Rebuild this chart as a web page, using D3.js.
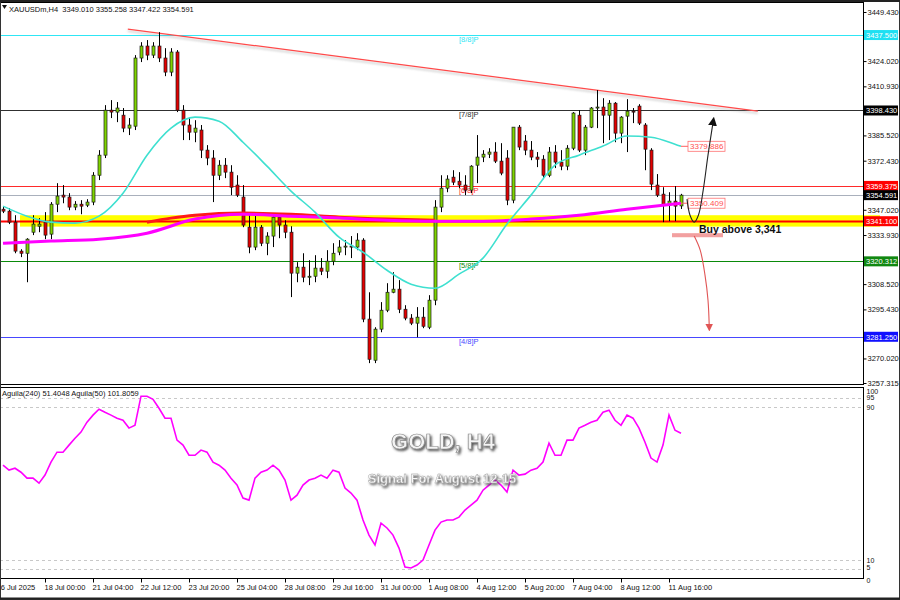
<!DOCTYPE html>
<html><head><meta charset="utf-8">
<script src="https://cdn.jsdelivr.net/npm/d3@7/dist/d3.min.js"></script>
<style>
html,body{margin:0;padding:0;background:#fff;}
svg{display:block;font-family:"Liberation Sans",Arial,sans-serif;}
</style></head><body>
<svg id="chart" width="900" height="600"></svg>
<script>
// ---------------- DATA ----------------
const opens=[3347.3,3346.3,3340.6,3325.6,3324.5,3335.4,3338.5,3340.6,3334.4,3349.9,
3354.6,3353.6,3348.4,3349.9,3349.4,3351.0,3364.9,3375.3,3398.6,3397.6,
3396.0,3389.3,3390.3,3425.6,3431.8,3427.1,3431.8,3425.6,3418.3,3428.7,
3398.6,3390.9,3387.2,3388.3,3377.9,3373.8,3364.9,3370.1,3366.5,3359.8,
3353.6,3338.0,3327.7,3338.0,3329.7,3333.4,3343.2,3339.1,3335.4,3314.2,
3317.3,3312.1,3312.6,3316.8,3315.2,3320.4,3325.1,3327.7,3328.2,3327.7,
3331.3,3290.4,3269.1,3285.2,3295.0,3304.3,3305.9,3295.5,3290.9,3288.3,
3291.4,3286.2,3300.2,3348.4,3358.2,3363.9,3361.8,3359.8,3357.2,3370.1,
3374.3,3375.8,3376.9,3372.2,3373.8,3352.0,3389.8,3382.6,3377.9,3374.3,
3373.2,3364.9,3376.9,3371.7,3369.6,3378.9,3396.0,3377.9,3389.8,3399.7,
3400.2,3396.0,3402.2,3386.7,3395.5,3398.1,3400.7,3390.9,3377.9,3359.8,
3355.1,3349.4,3351.5,3349.010];
const highs=[3348.9,3347.9,3344.2,3326.6,3332.3,3344.2,3342.7,3345.8,3351.0,3360.8,
3359.8,3355.6,3351.5,3352.0,3352.5,3366.5,3377.9,3401.2,3403.8,3402.8,
3399.7,3394.5,3427.1,3433.8,3434.9,3433.8,3439.0,3430.7,3430.7,3429.7,
3401.2,3394.5,3393.4,3390.9,3380.5,3377.9,3372.7,3373.8,3370.1,3364.9,
3359.8,3345.3,3345.3,3339.1,3335.4,3345.3,3345.3,3341.6,3338.5,3319.9,
3324.5,3320.9,3323.5,3322.0,3326.1,3329.7,3331.3,3331.3,3333.4,3334.9,
3332.3,3304.3,3286.2,3299.2,3309.0,3314.7,3310.6,3297.6,3293.0,3296.6,
3296.6,3302.8,3352.0,3364.9,3364.9,3367.5,3366.5,3364.9,3370.1,3385.7,
3377.9,3378.9,3382.0,3381.5,3377.9,3389.8,3390.9,3385.7,3382.6,3376.9,
3375.3,3379.5,3380.5,3377.9,3380.5,3397.6,3398.6,3390.9,3400.2,3409.0,
3404.8,3403.8,3402.8,3395.5,3404.3,3399.7,3401.7,3391.9,3378.9,3365.5,
3358.7,3356.1,3359.3,3355.258];
const lows=[3345.3,3339.6,3324.5,3322.5,3309.5,3333.9,3335.4,3331.8,3331.8,3345.8,
3350.4,3346.8,3346.8,3344.7,3348.4,3349.4,3362.4,3373.8,3394.5,3392.4,
3387.2,3385.7,3388.3,3423.5,3424.5,3425.6,3423.5,3416.2,3416.2,3397.6,
3383.1,3383.1,3382.0,3373.8,3370.1,3351.0,3362.4,3363.4,3354.6,3353.6,
3338.0,3324.5,3326.1,3328.2,3323.5,3327.7,3332.3,3332.3,3301.8,3309.5,
3309.5,3308.0,3309.5,3313.2,3311.6,3318.3,3323.5,3323.5,3322.0,3326.1,
3288.8,3267.6,3267.6,3283.6,3294.0,3303.8,3293.5,3289.8,3287.3,3281.0,
3285.7,3285.2,3297.6,3345.8,3356.1,3359.8,3358.2,3354.6,3355.6,3360.8,
3371.7,3373.8,3371.2,3364.9,3349.4,3350.4,3377.9,3375.3,3372.7,3369.1,
3362.9,3363.9,3368.6,3367.5,3367.5,3377.9,3376.9,3375.3,3389.3,3389.3,
3381.5,3383.1,3382.0,3381.5,3376.9,3391.9,3390.9,3367.5,3357.2,3353.6,
3340.6,3341.1,3341.1,3347.422];
const closes=[3346.3,3340.6,3325.6,3324.5,3331.8,3339.6,3339.6,3333.9,3349.9,3354.1,
3353.6,3348.4,3349.9,3348.9,3351.0,3364.9,3375.3,3398.6,3397.6,3399.7,
3389.3,3390.9,3425.6,3431.8,3427.1,3431.8,3425.6,3418.3,3428.7,3398.6,
3390.9,3387.2,3389.3,3377.9,3373.8,3364.9,3370.1,3366.5,3358.7,3354.6,
3339.1,3327.7,3338.0,3329.7,3333.4,3343.2,3339.1,3335.4,3314.2,3317.3,
3312.1,3312.6,3316.8,3315.2,3320.4,3324.5,3327.7,3328.2,3327.7,3331.3,
3290.4,3269.6,3285.2,3295.0,3304.3,3305.9,3295.5,3290.9,3288.3,3291.4,
3286.7,3300.2,3348.4,3358.2,3362.9,3361.3,3359.8,3357.2,3369.6,3374.3,
3375.8,3376.9,3372.2,3366.0,3352.0,3389.8,3379.5,3377.9,3374.3,3373.2,
3364.9,3376.9,3371.7,3369.6,3378.9,3397.1,3377.9,3389.8,3399.7,3400.2,
3396.0,3402.2,3386.7,3395.0,3398.1,3397.6,3391.9,3378.4,3360.3,3354.6,
3349.4,3351.5,3348.9,3354.591];

// moving averages (bar index, value)
const cyanMAIdx=[0,4,8,12,16,20,24,28,32,36,40,44,48,52,56,60,64,68,72,76,80,84,88,92,96,100,104,108,112,113];
const cyanMAVal=[3348.9,3343.7,3340.6,3340.1,3343.7,3355.6,3375.3,3389.3,3395.0,3392.9,3382.0,3369.6,3356.7,3345.8,3332.8,3325.1,3315.7,3308.5,3306.4,3313.7,3322.0,3339.6,3354.6,3370.1,3375.3,3380.0,3385.2,3384.6,3381.0,3379.886];
const magMAIdx=[0,8,16,24,32,40,48,56,64,72,80,88,96,104,113];
const magMAVal=[3329.7,3330.8,3331.8,3334.9,3342.2,3344.7,3343.7,3342.7,3341.6,3341.1,3341.1,3342.2,3344.2,3347.3,3350.409];
const redMAIdx=[24,28,32,40,48,56,64,72];
const redMAVal=[3340.6,3342.7,3344.2,3345.3,3344.7,3343.2,3342.2,3341.6];

// oscillator (Aguila) one value per bar
const oscVal=[59.6,57.0,58.0,55.9,52.8,52.8,50.2,54.4,61.2,66.4,
66.4,70.1,73.7,76.9,82.1,85.8,88.9,87.3,85.8,84.2,
83.1,79.0,80.5,95.7,95.7,94.1,89.4,84.2,84.2,72.7,
70.1,64.8,64.8,67.5,66.4,61.2,59.6,57.0,52.8,49.2,
42.4,41.3,52.8,55.9,57.0,59.6,57.0,51.8,41.3,43.9,
49.2,51.8,52.8,54.4,52.8,57.0,55.9,47.6,45.0,41.3,
30.9,23.0,17.8,29.3,26.7,23.0,16.2,6.3,5.8,7.3,
9.9,17.8,25.6,29.8,30.9,30.9,32.4,36.1,38.7,41.3,
46.5,49.2,51.8,49.2,45.5,57.0,54.4,54.9,57.0,58.0,
61.2,71.1,64.8,64.8,72.7,72.7,79.0,80.5,82.1,83.1,
87.3,88.4,83.1,80.5,85.8,84.2,79.0,71.6,63.3,61.2,
70.1,85.8,77.9,76.3];

const priceTicks=[3449.430,3424.020,3410.930,3385.520,3372.430,3347.020,3333.930,3308.520,3295.430,3270.020,3257.315];
const oscTicks=[100,95,90,10,5,0];
const oscDashed=[95,90,10,5];
const timeTickIdx=[-1,7,15,23,31,39,47,55,63,71,79,87,95,103,111];
const timeLabels=["16 Jul 2025","18 Jul 00:00","21 Jul 04:00","22 Jul 12:00","23 Jul 20:00","25 Jul 04:00","28 Jul 08:00","29 Jul 16:00","31 Jul 00:00","1 Aug 08:00","4 Aug 12:00","5 Aug 20:00","7 Aug 04:00","8 Aug 12:00","11 Aug 16:00"];

const levelVals=[3437.500,3398.430,3359.375,3354.591,3341.100,3320.312,3281.250];
const levelNames=["[8/8]P","[7/8]P","[6/8]P","","","[5/8]P","[4/8]P"];
const levelColors=["#2ee6f5","#303030","#ff2a2a","#a9b0bc","#ff0000","#0a8a0a","#4848ff"];
const levelBoxColors=["#1ee0f2","#000000","#ff0000","#000000","#ff0000","#118811","#1010ff"];

const zoneVals=[3344.2,3338.3];          // yellow support zone
const trendIdx=[20.8,125.8], trendVal=[3440.6,3398.1];
const upPathIdx=[114,114.5,115.2,115.9,116.7,117.5,118.3];
const upPathVal=[3352.5,3344.2,3340.6,3344.2,3357.2,3375.3,3391.5];
const downPathIdx=[115.2,116.2,117,117.5,117.7];
const downPathVal=[3333.4,3326.1,3313.2,3300.2,3287.3];
const pinkZoneIdx=[111.5,120], pinkZoneVal=[3334.9,3332.8];
const header="XAUUSDm,H4  3349.010 3355.258 3347.422 3354.591";
const oscHeader="Aguila(240) 51.4048   Aguila(50) 101.8059";

// ---------------- DRAW ----------------
const svg=d3.select("#chart");
const PR=863; // right edge of plot
const x=d3.scaleLinear().domain([0,opens.length-1]).range([3,681]);
const y=d3.scaleLinear().domain([3257.315,3449.430]).range([383,12]);
const yo=d3.scaleLinear().domain([0,100]).range([579,388]);

const defs=svg.append("defs");
defs.append("clipPath").attr("id","mainClip").append("rect").attr("x",0).attr("y",3).attr("width",PR).attr("height",381);
defs.append("clipPath").attr("id","oscClip").append("rect").attr("x",0).attr("y",387).attr("width",PR).attr("height",191);
const sh=defs.append("filter").attr("id","tshadow").attr("x","-20%").attr("y","-40%").attr("width","140%").attr("height","180%");
sh.append("feDropShadow").attr("dx",1.5).attr("dy",1.8).attr("stdDeviation",1.1).attr("flood-color","#444").attr("flood-opacity",0.9);
const lsh=defs.append("filter").attr("id","lshadow");
lsh.append("feDropShadow").attr("dx",0).attr("dy",2).attr("stdDeviation",1).attr("flood-color","#999").attr("flood-opacity",0.6);
defs.append("marker").attr("id","arrBlack").attr("viewBox","0 0 10 10").attr("refX",2).attr("refY",5)
  .attr("markerWidth",9).attr("markerHeight",9).attr("markerUnits","userSpaceOnUse").attr("orient","auto")
  .append("path").attr("d","M0,0L10,5L0,10z").attr("fill","#111");
defs.append("marker").attr("id","arrRed").attr("viewBox","0 0 10 10").attr("refX",2).attr("refY",5)
  .attr("markerWidth",8).attr("markerHeight",8).attr("markerUnits","userSpaceOnUse").attr("orient","auto")
  .append("path").attr("d","M0,0L10,5L0,10z").attr("fill","#e05555");

svg.append("rect").attr("width",900).attr("height",600).attr("fill","#fff");

// yellow zone (background)
svg.append("rect").attr("x",20).attr("y",y(zoneVals[0])).attr("width",880-20)
  .attr("height",y(zoneVals[1])-y(zoneVals[0])).attr("fill","#ffff00");

const main=svg.append("g").attr("clip-path","url(#mainClip)");
// level lines
levelVals.forEach((v,i)=>{
  main.append("line").attr("x1",0).attr("x2",PR).attr("y1",Math.round(y(v))+0.5).attr("y2",Math.round(y(v))+0.5)
    .attr("stroke",levelColors[i]).attr("stroke-width",i===4?2.2:1);
  if(levelNames[i]) main.append("text").attr("x",459).attr("y",y(v)+7).attr("font-size",7.5)
    .attr("fill",levelColors[i]).text(levelNames[i]);
});
// trend line
main.append("line").attr("x1",x(trendIdx[0])).attr("y1",y(trendVal[0])).attr("x2",x(trendIdx[1])).attr("y2",y(trendVal[1]))
  .attr("stroke","#ff4a4a").attr("stroke-width",1.2).attr("filter","url(#lshadow)");

// candles
const candles=main.append("g");
opens.forEach((o,i)=>{
  const c=closes[i], up=c>=o, cx=Math.round(x(i))+0.5;
  candles.append("line").attr("x1",cx).attr("x2",cx).attr("y1",y(highs[i])).attr("y2",y(lows[i])).attr("stroke","#000").attr("stroke-width",1);
  const top=y(Math.max(o,c)), bot=y(Math.min(o,c));
  candles.append("rect").attr("x",cx-1.5).attr("y",top).attr("width",3).attr("height",Math.max(1,bot-top))
    .attr("fill",up?"#7fd400":"#e30000").attr("stroke","#1a1a1a").attr("stroke-width",0.7);
});

// MAs
const lineGen=d3.line().curve(d3.curveMonotoneX);
main.append("path").attr("d",lineGen(redMAIdx.map((d,i)=>[x(d),y(redMAVal[i])]))).attr("fill","none").attr("stroke","#ff1a1a").attr("stroke-width",3);
main.append("path").attr("d",lineGen(magMAIdx.map((d,i)=>[x(d),y(magMAVal[i])]))).attr("fill","none").attr("stroke","#ff00ff").attr("stroke-width",3);
main.append("path").attr("d",lineGen(cyanMAIdx.map((d,i)=>[x(d),y(cyanMAVal[i])]))).attr("fill","none").attr("stroke","#3ee0d0").attr("stroke-width",1.6);

// MA value tags
[[cyanMAVal[cyanMAVal.length-1]],[magMAVal[magMAVal.length-1]]].forEach(([v])=>{
  const yy=y(v), x0=x(opens.length-1);
  main.append("line").attr("x1",x0).attr("x2",x0+7).attr("y1",yy).attr("y2",yy).attr("stroke","#ff6060");
  main.append("rect").attr("x",x0+7).attr("y",yy-5).attr("width",37).attr("height",10).attr("fill","#fff").attr("stroke","#ff7070").attr("stroke-width",0.8);
  main.append("text").attr("x",x0+9).attr("y",yy+3).attr("font-size",8).attr("fill","#ff5050").text(v.toFixed(3));
});

// annotations
main.append("rect").attr("x",x(pinkZoneIdx[0])).attr("y",y(pinkZoneVal[0])).attr("width",x(pinkZoneIdx[1])-x(pinkZoneIdx[0]))
  .attr("height",y(pinkZoneVal[1])-y(pinkZoneVal[0])).attr("fill","#f2a0a0");
const curve=d3.line().curve(d3.curveCatmullRom);
main.append("path").attr("d",curve(upPathIdx.map((d,i)=>[x(d),y(upPathVal[i])]))).attr("fill","none")
  .attr("stroke","#222").attr("stroke-width",1.1).attr("marker-end","url(#arrBlack)");
main.append("path").attr("d",curve(downPathIdx.map((d,i)=>[x(d),y(downPathVal[i])]))).attr("fill","none")
  .attr("stroke","#e05555").attr("stroke-width",1.1).attr("marker-end","url(#arrRed)");
main.append("text").attr("x",x(116)).attr("y",y(3335.2)).attr("font-size",10.5).attr("font-weight","bold").attr("fill","#111").text("Buy above 3,341");

// oscillator panel
const osc=svg.append("g").attr("clip-path","url(#oscClip)");
oscDashed.forEach(v=>{
  osc.append("line").attr("x1",0).attr("x2",PR).attr("y1",Math.round(yo(v))+0.5).attr("y2",Math.round(yo(v))+0.5)
    .attr("stroke","#c8c8c8").attr("stroke-dasharray","3,3");
});
osc.append("path").attr("d",d3.line()(oscVal.map((v,i)=>[x(i),yo(v)]))).attr("fill","none").attr("stroke","#ff00ff").attr("stroke-width",1.6);
svg.append("text").attr("x",2).attr("y",396).attr("font-size",7.5).attr("fill","#111").text(oscHeader);

// title texts
svg.append("text").attr("x",443).attr("y",449).attr("text-anchor","middle").attr("font-size",22).attr("font-weight","bold")
  .attr("fill","#f4f4f4").attr("stroke","#8a8a8a").attr("stroke-width",0.7).attr("filter","url(#tshadow)").text("GOLD, H4");
svg.append("text").attr("x",442).attr("y",483).attr("text-anchor","middle").attr("font-size",13).attr("font-weight","bold")
  .attr("fill","#f8f8f8").attr("stroke","#999").attr("stroke-width",0.4).attr("filter","url(#tshadow)").text("Signal For August 12-15");

// frames
svg.append("rect").attr("x",0.5).attr("y",2.5).attr("width",PR).attr("height",382).attr("fill","none").attr("stroke","#000");
svg.append("rect").attr("x",0.5).attr("y",387.5).attr("width",PR).attr("height",191).attr("fill","none").attr("stroke","#000");

// right price axis
const ax=svg.append("g").attr("transform",`translate(${PR+0.5},0)`)
  .call(d3.axisRight(y).tickValues(priceTicks).tickFormat(d3.format(".3f")).tickSize(3).tickPadding(1));
ax.select(".domain").remove();
ax.selectAll("text").attr("font-size",7.5).attr("fill","#111").attr("font-family","Liberation Sans, Arial, sans-serif");
// level boxes
levelVals.forEach((v,i)=>{
  const yy=y(v);
  svg.append("rect").attr("x",PR+1).attr("y",yy-5).attr("width",34).attr("height",10).attr("fill",levelBoxColors[i]);
  svg.append("text").attr("x",PR+3).attr("y",yy+3).attr("font-size",7.5).attr("fill","#fff").text(v.toFixed(3));
});
// osc axis
const oscLabelShift={100:3,95:-0.5,90:0,10:0,5:-2.5,0:1.5};
const oax=svg.append("g").attr("transform",`translate(${PR+0.5},0)`)
  .call(d3.axisRight(yo).tickValues(oscTicks).tickSize(0).tickPadding(3));
oax.select(".domain").remove();
oax.selectAll("text").attr("font-size",7).attr("fill","#111").attr("font-family","Liberation Sans, Arial, sans-serif")
  .attr("dy","0.32em").attr("y",d=>oscLabelShift[d]);

// time axis
const tax=svg.append("g").attr("transform","translate(0,578.5)")
  .call(d3.axisBottom(x).tickValues(timeTickIdx).tickFormat((d,i)=>timeLabels[i]).tickSize(4).tickPadding(2));
tax.select(".domain").remove();
tax.selectAll("text").attr("font-size",7.5).attr("fill","#111").attr("text-anchor","start").attr("dx",-1)
  .attr("font-family","Liberation Sans, Arial, sans-serif");

// header
svg.append("path").attr("d","M2,5L7,5L4.5,9z").attr("fill","#111");
svg.append("text").attr("x",9).attr("y",12).attr("font-size",7.5).attr("fill","#111").style("white-space","pre").text(header);

// outer frame
svg.append("rect").attr("x",0.5).attr("y",0.5).attr("width",899).attr("height",599).attr("fill","none").attr("stroke","#333").attr("stroke-width",1);
svg.append("line").attr("x1",0).attr("x2",900).attr("y1",598.5).attr("y2",598.5).attr("stroke","#222").attr("stroke-width",2);
svg.append("line").attr("x1",0).attr("x2",900).attr("y1",1).attr("y2",1).attr("stroke","#222").attr("stroke-width",2);
</script></body></html>
